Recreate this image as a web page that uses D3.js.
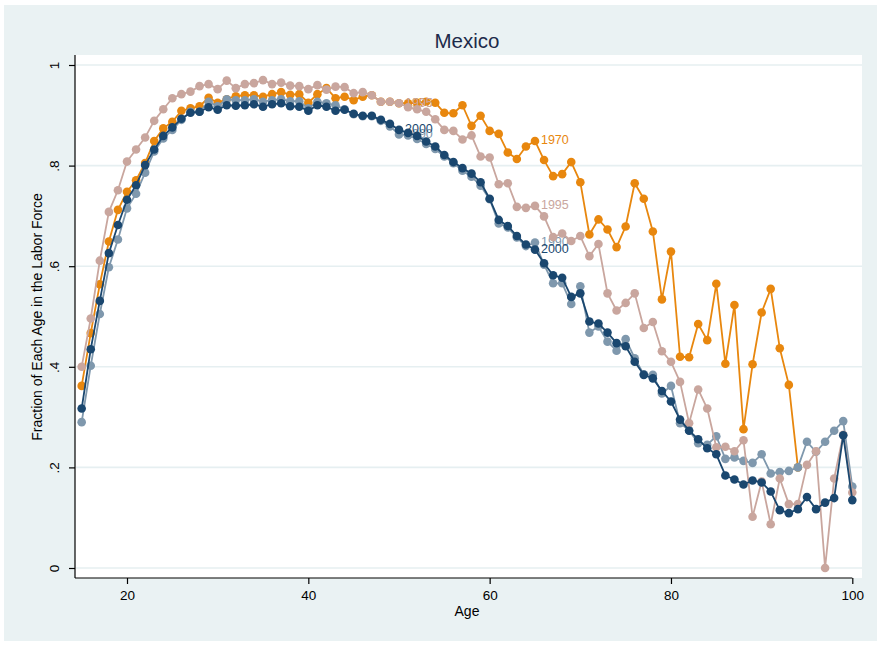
<!DOCTYPE html>
<html>
<head>
<meta charset="utf-8">
<script src="https://cdn.jsdelivr.net/npm/d3@7/dist/d3.min.js"></script>
<style>
  html, body { margin: 0; padding: 0; background: #ffffff; }
  svg { display: block; font-family: "Liberation Sans", Arial, Helvetica, sans-serif; }
</style>
</head>
<body>
<svg id="chart" width="880" height="646"></svg>
<script>
// Ages 15..100
const ages = d3.range(15, 101);

// Labor-force participation by age, one array per census year (null = no data)
const lf1970 = [
  0.362, 0.467, 0.564, 0.649, 0.712, 0.748, 0.771, 0.805, 0.849, 0.874,
  0.887, 0.909, 0.914, 0.918, 0.935, 0.925, 0.932, 0.938, 0.940, 0.940,
  0.937, 0.942, 0.946, 0.941, 0.942, 0.925, 0.942, 0.954, 0.934, 0.937,
  0.930, 0.937, 0.940, 0.927, 0.927, 0.924, 0.924, 0.925, 0.927, 0.925,
  0.905, 0.904, 0.920, 0.879, 0.899, 0.869, 0.863, 0.826, 0.813, 0.838,
  0.849, 0.811, 0.779, 0.783, 0.807, 0.767, 0.663, 0.693, 0.673, 0.638,
  0.679, 0.765, 0.734, 0.669, 0.534, 0.629, 0.420, 0.419, 0.485, 0.453,
  0.565, 0.406, 0.523, 0.276, 0.405, 0.508, 0.555, 0.437, 0.364, 0.200,
  null, null, null, null, null, null
];
const lf1990 = [
  0.290, 0.402, 0.505, 0.598, 0.653, 0.715, 0.744, 0.786, 0.828, 0.854,
  0.871, 0.891, 0.907, 0.907, 0.927, 0.918, 0.932, 0.930, 0.930, 0.932,
  0.927, 0.930, 0.932, 0.928, 0.928, 0.914, 0.927, 0.924, 0.920, 0.912,
  0.902, 0.898, 0.898, 0.889, 0.878, 0.862, 0.860, 0.853, 0.843, 0.833,
  0.818, 0.805, 0.790, 0.778, 0.760, 0.733, 0.685, 0.677, 0.657, 0.640,
  0.647, 0.603, 0.566, 0.566, 0.525, 0.560, 0.468, 0.480, 0.450, 0.432,
  0.455, 0.417, 0.385, 0.384, 0.347, 0.362, 0.288, 0.274, 0.248, 0.245,
  0.262, 0.217, 0.220, 0.213, 0.209, 0.226, 0.188, 0.191, 0.193, 0.200,
  0.251, 0.231, 0.251, 0.273, 0.292, 0.162
];
const lf1995 = [
  0.400, 0.496, 0.611, 0.708, 0.751, 0.808, 0.832, 0.856, 0.889, 0.912,
  0.934, 0.942, 0.947, 0.958, 0.962, 0.952, 0.969, 0.954, 0.962, 0.964,
  0.970, 0.962, 0.965, 0.959, 0.958, 0.952, 0.960, 0.951, 0.957, 0.956,
  0.944, 0.946, 0.940, 0.927, 0.927, 0.924, 0.916, 0.912, 0.907, 0.892,
  0.871, 0.869, 0.852, 0.860, 0.818, 0.816, 0.763, 0.765, 0.718, 0.716,
  0.720, 0.699, 0.658, 0.665, 0.650, 0.660, 0.620, 0.644, 0.546, 0.512,
  0.527, 0.546, 0.477, 0.489, 0.431, 0.410, 0.370, 0.288, 0.355, 0.317,
  0.240, 0.241, 0.232, 0.254, 0.102, 0.172, 0.087, 0.178, 0.127, 0.127,
  0.205, 0.232, 0.000, 0.178, 0.265, 0.150
];
const lf2000 = [
  0.317, 0.435, 0.531, 0.626, 0.682, 0.732, 0.761, 0.801, 0.832, 0.859,
  0.876, 0.893, 0.905, 0.907, 0.916, 0.911, 0.920, 0.919, 0.920, 0.922,
  0.917, 0.922, 0.924, 0.918, 0.917, 0.909, 0.920, 0.917, 0.909, 0.911,
  0.903, 0.899, 0.899, 0.891, 0.883, 0.871, 0.865, 0.859, 0.848, 0.838,
  0.821, 0.807, 0.795, 0.784, 0.767, 0.734, 0.692, 0.680, 0.660, 0.643,
  0.633, 0.606, 0.582, 0.577, 0.539, 0.546, 0.490, 0.486, 0.468, 0.447,
  0.441, 0.410, 0.384, 0.377, 0.352, 0.331, 0.295, 0.273, 0.256, 0.238,
  0.226, 0.184, 0.176, 0.166, 0.174, 0.170, 0.152, 0.115, 0.109, 0.117,
  0.141, 0.117, 0.130, 0.139, 0.264, 0.135
];

const seriesNames = ["1970", "1990", "1995", "2000"];
const seriesColors = ["#e8870e", "#7f98ad", "#c9a69e", "#1a476f"];
const labelAges = [50, 65];

const xTicks = [20, 40, 60, 80, 100];
const yTicks = [0, 0.2, 0.4, 0.6, 0.8, 1];
const yTickLabels = ["0", ".2", ".4", ".6", ".8", "1"];

const svg = d3.select("#chart");

// Outer graph region and white plot region
svg.append("rect").attr("x", 4).attr("y", 5).attr("width", 873).attr("height", 636)
  .attr("fill", "#eaf2f3");
const plot = { left: 75, right: 862, top: 55, bottom: 578 };
svg.append("rect").attr("x", plot.left).attr("y", plot.top)
  .attr("width", plot.right - plot.left).attr("height", plot.bottom - plot.top)
  .attr("fill", "#ffffff");

const x = d3.scaleLinear().domain([20, 100]).range([127, 852.3]);
const y = d3.scaleLinear().domain([0, 1]).range([568, 65]);

// Horizontal grid
svg.append("g").selectAll("line").data(yTicks).join("line")
  .attr("x1", plot.left + 1).attr("x2", plot.right)
  .attr("y1", d => y(d)).attr("y2", d => y(d))
  .attr("stroke", "#e6eff1").attr("stroke-width", 1.6);

// Axes
const yAxis = d3.axisLeft(y).tickValues(yTicks)
  .tickFormat((d, i) => yTickLabels[i]).tickSize(6).tickPadding(6);
const gy = svg.append("g").attr("transform", `translate(${plot.left},0)`).call(yAxis);
gy.select(".domain").remove();
gy.append("line").attr("x1", 0).attr("x2", 0).attr("y1", plot.top).attr("y2", plot.bottom)
  .attr("stroke", "#000").attr("stroke-width", 1.2);
gy.selectAll(".tick line").attr("stroke", "#000").attr("stroke-width", 1.2);
gy.selectAll(".tick text")
  .attr("font-size", 13.5).attr("fill", "#000")
  .attr("text-anchor", "middle").attr("x", null).attr("dy", null)
  .attr("transform", "translate(-20,0) rotate(-90)")
  .attr("dominant-baseline", "middle");

const xAxis = d3.axisBottom(x).tickValues(xTicks).tickSize(6).tickPadding(6);
const gx = svg.append("g").attr("transform", `translate(0,${plot.bottom})`).call(xAxis);
gx.select(".domain").remove();
gx.append("line").attr("x1", plot.left).attr("x2", x(100)).attr("y1", 0).attr("y2", 0)
  .attr("stroke", "#000").attr("stroke-width", 1.2);
gx.selectAll(".tick line").attr("stroke", "#000").attr("stroke-width", 1.2);
gx.selectAll(".tick text").attr("font-size", 13.5).attr("fill", "#000");

// Axis titles and chart title
svg.append("text").attr("x", 467).attr("y", 616).attr("text-anchor", "middle")
  .attr("font-size", 14).attr("fill", "#000").text("Age");
svg.append("text").attr("transform", "translate(42,317) rotate(-90)")
  .attr("text-anchor", "middle").attr("font-size", 14).attr("fill", "#000")
  .text("Fraction of Each Age in the Labor Force");
svg.append("text").attr("x", 467).attr("y", 48).attr("text-anchor", "middle")
  .attr("font-size", 20.5).attr("fill", "#1c2a4a").text("Mexico");

// Series: connected lines with circle markers and year labels
const allSeries = [lf1970, lf1990, lf1995, lf2000];
const line = d3.line()
  .defined(d => d.v !== null)
  .x(d => x(d.age)).y(d => y(d.v));

allSeries.forEach((vals, i) => {
  const pts = ages.map((a, j) => ({ age: a, v: vals[j] }));
  const g = svg.append("g");
  g.append("path").datum(pts).attr("d", line)
    .attr("fill", "none").attr("stroke", seriesColors[i]).attr("stroke-width", 1.8)
    .attr("stroke-linejoin", "round");
  g.selectAll("circle").data(pts.filter(d => d.v !== null)).join("circle")
    .attr("cx", d => x(d.age)).attr("cy", d => y(d.v)).attr("r", 4.3)
    .attr("fill", seriesColors[i]);
  g.selectAll("text").data(pts.filter(d => labelAges.includes(d.age) && d.v !== null)).join("text")
    .attr("x", d => x(d.age) + 6).attr("y", d => y(d.v))
    .attr("dominant-baseline", "middle")
    .attr("font-size", 12.5).attr("fill", seriesColors[i])
    .text(seriesNames[i]);
});
</script>
</body>
</html>
